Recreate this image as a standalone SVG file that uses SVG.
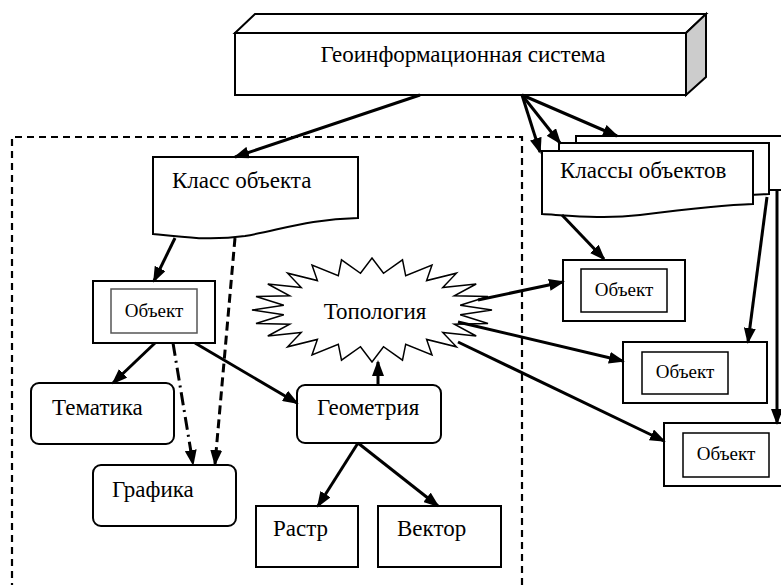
<svg xmlns="http://www.w3.org/2000/svg" width="781" height="585" viewBox="0 0 781 585">
<defs>
<marker id="ah" markerUnits="userSpaceOnUse" markerWidth="16" markerHeight="12" viewBox="0 0 16 12" refX="14" refY="6" orient="auto">
<path d="M0,0 L16,6 L0,12 z" fill="#000"/>
</marker>
</defs>
<style>
.t{font-size:23px}
.s{font-size:19px}
.box{fill:#fff;stroke:#000;stroke-width:2}
.inner{fill:#fff;stroke:#000;stroke-width:1.5}
.ln{stroke:#000;stroke-width:3;fill:none;marker-end:url(#ah)}
</style>
<rect width="781" height="585" fill="#fff"/>
<path id="boundary" d="M12,590 V137 H522 V590" fill="none" stroke="#000" stroke-width="2.2" stroke-dasharray="7 5"/>
<g font-family="'Liberation Serif', 'DejaVu Serif', serif" fill="#000">
<g id="n-gis">
<polygon points="235,33 255,14 706,14 686,33" class="box"/>
<polygon points="686,33 706,14 706,77 686,95" fill="#ccc" stroke="#000" stroke-width="2"/>
<rect x="235" y="33" width="451" height="62" class="box"/>
<text x="463" y="62" class="t" text-anchor="middle">Геоинформационная система</text>
</g>
<g id="n-class">
<path d="M153,157 H358 V218 C310,219 280,230 245,236 C210,241 180,237 153,234 Z" class="box"/>
<text x="172" y="188" class="t">Класс объекта</text>
</g>
<g id="n-classes">
<rect x="576" y="136" width="230" height="54" class="box"/>
<path d="M559,143 H769 V194 C740,195 700,200 660,206 C625,211 590,210 559,207 Z" class="box"/>
<path d="M542,151 H753 V204 C720,205 680,210 640,215 C605,219 575,216 542,214 Z" class="box"/>
<text x="560" y="178" class="t">Классы объектов</text>
</g>
<g id="n-topology">
<polygon fill="#fff" stroke="#000" stroke-width="1.5" points="492,310 460.2,305.2 488,296.5 454.3,295.8 476.2,284 442.8,287.5 456.4,273.2 426.6,280.6 432,265 405.7,275.8 402.5,259.8 383.5,273.3 372,258 360.5,273.3 341.5,259.8 338.3,275.8 312,265 317.4,280.6 287.6,273.2 301.2,287.5 267.8,284 289.7,295.8 256,296.5 283.8,305.2 252,310 283.8,314.8 256,323.5 289.7,324.2 267.8,336 301.2,332.5 287.6,346.8 317.4,339.4 312,355 338.3,344.2 341.5,360.2 360.5,346.7 372,362 383.5,346.7 402.5,360.2 405.7,344.2 432,355 426.6,339.4 456.4,346.8 442.8,332.5 476.2,336 454.3,324.2 488,323.5 460.2,314.8"/>
<text x="375" y="319" class="t" text-anchor="middle">Топология</text>
</g>
<g id="n-obj0">
<rect x="93" y="281" width="122" height="62" class="box"/>
<rect x="111" y="289" width="86" height="44" fill="#fff" stroke="#555" stroke-width="1.5"/>
<text x="154" y="317" class="s" text-anchor="middle">Объект</text>
</g>
<g id="n-thematic">
<rect x="31" y="383" width="143" height="61" rx="8" class="box"/>
<text x="52" y="415" class="t">Тематика</text>
</g>
<g id="n-graphics">
<rect x="93" y="465" width="143" height="61" rx="8" class="box"/>
<text x="112" y="497" class="t">Графика</text>
</g>
<g id="n-geometry">
<rect x="297" y="385" width="144" height="58" rx="8" class="box"/>
<text x="317" y="415" class="t">Геометрия</text>
</g>
<g id="n-raster">
<rect x="256" y="506" width="102" height="61" class="box"/>
<text x="273" y="536" class="t">Растр</text>
</g>
<g id="n-vector">
<rect x="378" y="506" width="123" height="61" class="box"/>
<text x="397" y="536" class="t">Вектор</text>
</g>
<g id="n-obj1">
<rect x="563" y="260" width="122" height="61" class="box"/>
<rect x="581" y="269" width="86" height="43" class="inner"/>
<text x="624" y="296" class="s" text-anchor="middle">Объект</text>
</g>
<g id="n-obj2">
<rect x="623" y="342" width="144" height="61" class="box"/>
<rect x="642" y="352" width="86" height="42" class="inner"/>
<text x="685" y="378" class="s" text-anchor="middle">Объект</text>
</g>
<g id="n-obj3">
<rect x="664" y="423" width="130" height="63" class="box"/>
<rect x="683" y="433" width="86" height="44" class="inner"/>
<text x="726" y="460" class="s" text-anchor="middle">Объект</text>
</g>
</g>
<g id="connectors">
<line x1="420" y1="95" x2="235" y2="157" class="ln"/>
<line x1="522" y1="95" x2="540" y2="152" class="ln"/>
<line x1="522" y1="95" x2="560" y2="143" class="ln"/>
<line x1="522" y1="95" x2="617" y2="136" class="ln"/>
<line x1="175" y1="238" x2="154" y2="281" class="ln"/>
<line x1="235" y1="238" x2="215" y2="464" class="ln" stroke-dasharray="9 5"/>
<line x1="173" y1="343" x2="193" y2="464" class="ln" stroke-dasharray="13 5 2 5"/>
<line x1="155" y1="343" x2="113" y2="383" class="ln"/>
<line x1="195" y1="343" x2="297" y2="403" class="ln"/>
<line x1="378" y1="385" x2="378" y2="362" class="ln"/>
<line x1="358" y1="443" x2="318" y2="506" class="ln"/>
<line x1="358" y1="443" x2="438" y2="506" class="ln"/>
<line x1="478" y1="300" x2="563" y2="282" class="ln"/>
<line x1="458" y1="322" x2="623" y2="361" class="ln"/>
<line x1="458" y1="342" x2="664" y2="441" class="ln"/>
<line x1="562" y1="215" x2="604" y2="259" class="ln"/>
<line x1="767" y1="197" x2="748" y2="342" class="ln"/>
<line x1="777" y1="191" x2="777" y2="423" class="ln"/>
</g>
</svg>
